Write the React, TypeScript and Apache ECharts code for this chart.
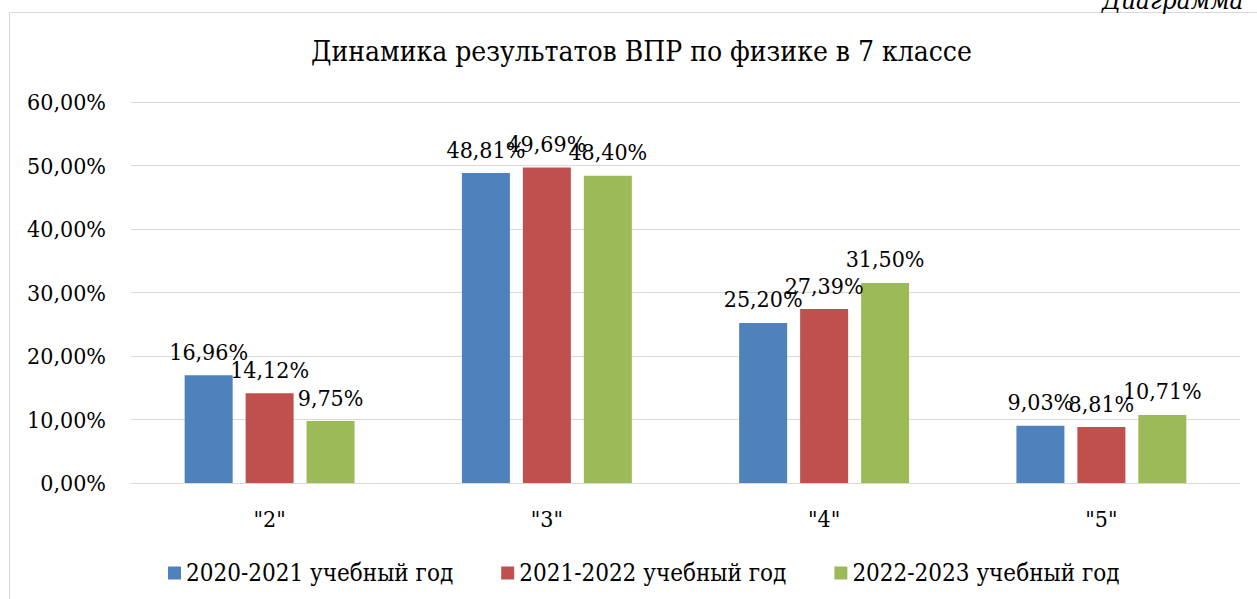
import React, { useEffect, useRef } from "react";
import * as echarts from "echarts";

const categories = ['"2"', '"3"', '"4"', '"5"'];
const seriesNames = ["2020-2021 учебный год", "2021-2022 учебный год", "2022-2023 учебный год"];
const values2021 = [16.96, 48.81, 25.2, 9.03];
const values2022 = [14.12, 49.69, 27.39, 8.81];
const values2023 = [9.75, 48.4, 31.5, 10.71];
const colors = ["#4F81BD", "#C0504D", "#9BBB59"];
const titleText = "Динамика результатов ВПР по физике в 7 классе";

const FONT = "DejaVu Serif Condensed, DejaVu Serif";
const fmt = (v: number) => v.toFixed(2).replace(".", ",") + "%";

export default function App() {
  const ref = useRef<HTMLDivElement>(null);
  useEffect(() => {
    if (!ref.current) return;
    const chart = echarts.init(ref.current, null, { renderer: "svg" });
    const allValues = [values2021, values2022, values2023];
    chart.setOption({
      animation: false,
      backgroundColor: "#ffffff",
      textStyle: { fontFamily: FONT },
      title: {
        text: titleText,
        left: 306,
        top: 32,
        textStyle: { fontFamily: FONT, fontSize: 28, fontWeight: "normal", color: "#000" },
      },
      legend: {
        left: 163,
        top: 556,
        itemWidth: 13,
        itemHeight: 13,
        itemGap: 48,
        icon: "rect",
        textStyle: { fontFamily: FONT, fontSize: 24, color: "#000" },
        data: seriesNames,
      },
      grid: { left: 131, right: 17, top: 102, bottom: 116, containLabel: false },
      xAxis: {
        type: "category",
        data: categories,
        axisTick: { show: false },
        axisLine: { lineStyle: { color: "#d9d9d9", width: 1 } },
        axisLabel: { fontFamily: FONT, fontSize: 23, color: "#000", margin: 24 },
      },
      yAxis: {
        type: "value",
        min: 0,
        max: 60,
        interval: 10,
        axisLine: { show: false },
        axisTick: { show: false },
        splitLine: { lineStyle: { color: "#d9d9d9", width: 1 } },
        axisLabel: {
          fontFamily: FONT,
          fontSize: 23,
          color: "#000",
          margin: 25,
          formatter: (v: number) => fmt(v),
        },
      },
      series: seriesNames.map((name, i) => ({
        name,
        type: "bar",
        data: allValues[i],
        barWidth: 48,
        barGap: "27%",
        itemStyle: { color: colors[i] },
        label: {
          show: true,
          position: "top",
          distance: 12,
          fontFamily: FONT,
          fontSize: 23,
          color: "#000",
          formatter: (p: any) => fmt(p.value),
        },
      })),
      graphic: [
        {
          type: "rect",
          shape: { x: 9.5, y: 12.5, width: 1300, height: 700 },
          style: { fill: "none", stroke: "#d9d9d9", lineWidth: 1 },
          silent: true,
          z: -1,
        },
        {
          type: "text",
          x: 1102,
          y: 13,
          style: {
            text: "Диаграмма",
            fontFamily: FONT,
            fontStyle: "italic",
            fontSize: 26,
            fill: "#000",
            verticalAlign: "bottom",
          },
          silent: true,
        },
      ],
    });
    return () => chart.dispose();
  }, []);
  return (
    <div
      ref={ref}
      style={{ position: "fixed", left: 0, top: 0, width: 1257, height: 599 }}
    />
  );
}
